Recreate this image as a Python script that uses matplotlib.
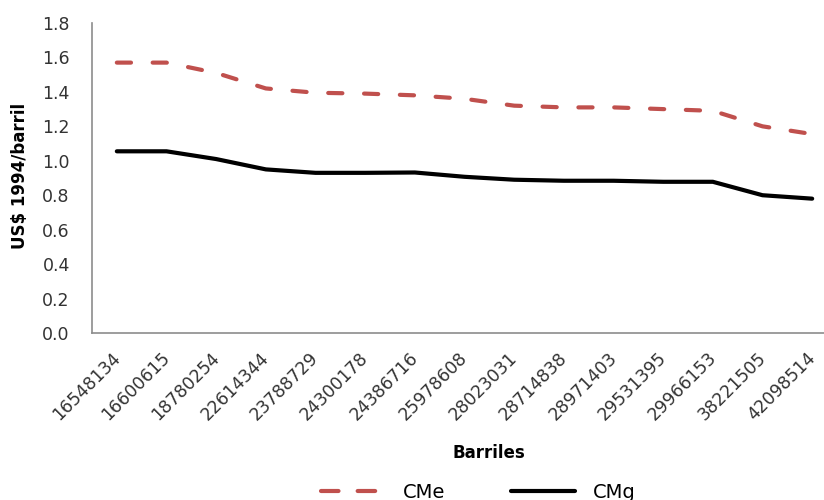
import matplotlib
matplotlib.use("Agg")
import matplotlib.pyplot as plt
from matplotlib.lines import Line2D
from matplotlib.transforms import ScaledTranslation

categories = ["16548134", "16600615", "18780254", "22614344", "23788729", "24300178",
              "24386716", "25978608", "28023031", "28714838", "28971403", "29531395",
              "29966153", "38221505", "42098514"]
cme = [1.57, 1.57, 1.51, 1.42, 1.395, 1.39, 1.38, 1.36, 1.32, 1.31, 1.31, 1.30, 1.29, 1.20, 1.155]
cmg = [1.055, 1.055, 1.01, 0.95, 0.93, 0.93, 0.932, 0.907, 0.89, 0.884, 0.884, 0.878, 0.878, 0.80, 0.78]
yticks = [0.0, 0.2, 0.4, 0.6, 0.8, 1.0, 1.2, 1.4, 1.6, 1.8]

plt.rcParams['font.family'] = ['DejaVu Sans']

fig = plt.figure(figsize=(8.24, 5.0), dpi=100)
ax = fig.add_axes([92/824, 167/500, 745/824, 310/500])

x = list(range(len(categories)))
l1, = ax.plot(x, cme, color='#C0504D', lw=3.0, dashes=(3.4, 5.2), dash_capstyle='round',
              solid_capstyle='round', label='CMe')
l2, = ax.plot(x, cmg, color='black', lw=3.0, solid_capstyle='round', label='CMg')

ax.set_xlim(-0.5, len(categories) - 0.5)
ax.set_ylim(0, 1.8)
ax.set_yticks(yticks)
ax.set_yticklabels([f"{v:.1f}" for v in yticks], fontsize=12.5, color='#333333')
ax.set_xticks(x)
ax.set_xticklabels(categories, rotation=45, ha='right', va='center', rotation_mode='anchor',
                   fontsize=12.5, color='#333333')
ax.tick_params(axis='y', length=0, pad=16)
ax.tick_params(axis='x', length=0, pad=16)
off = ScaledTranslation(0.5/100, 0, fig.dpi_scale_trans)
for lab in ax.get_xticklabels():
    lab.set_transform(lab.get_transform() + off)

for s in ['top', 'right']:
    ax.spines[s].set_visible(False)
for s in ['left', 'bottom']:
    ax.spines[s].set_color('#8c8c8c')
    ax.spines[s].set_linewidth(1.2)

fig.text(20/824, 1 - 176/500, 'US$ 1994/barril', ha='center', va='center', rotation=90,
         fontsize=12, fontweight='bold')
fig.text(489/824, 1 - 453/500, 'Barriles', ha='center', va='center',
         fontsize=12, fontweight='bold')

h1 = Line2D([], [], color='#C0504D', lw=3.0, dashes=(4.2, 4.6), dash_capstyle='round')
h2 = Line2D([], [], color='black', lw=3.0, solid_capstyle='round')
fig.legend(handles=[h1, h2], labels=['CMe', 'CMg'], loc='center',
           bbox_to_anchor=(478/824, 1 - 492/500), ncol=2,
           frameon=False, fontsize=14, handlelength=3.3, columnspacing=3.4, handletextpad=0.9)

fig.savefig('out.png', dpi=100)
